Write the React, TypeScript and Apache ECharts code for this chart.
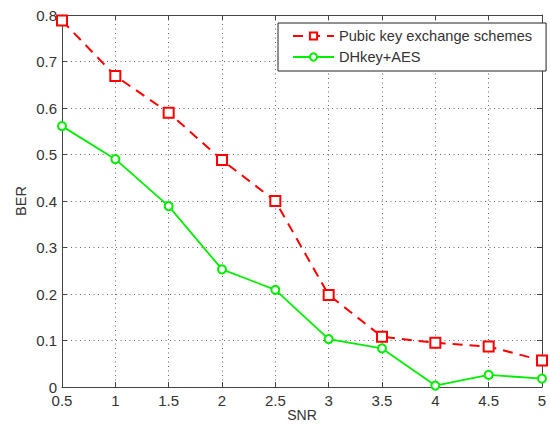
import React, { useEffect, useRef } from "react";
import * as echarts from "echarts";

const snr = [0.5, 1, 1.5, 2, 2.5, 3, 3.5, 4, 4.5, 5];
const pubKey = [0.788, 0.669, 0.59, 0.488, 0.4, 0.198, 0.108, 0.095, 0.087, 0.057];
const dhAes = [0.561, 0.49, 0.389, 0.253, 0.209, 0.103, 0.083, 0.003, 0.026, 0.018];
const seriesNames = ["Pubic key exchange schemes", "DHkey+AES"];

const FONT = "'Liberation Sans', Arial, sans-serif";
const TXT = "#333";
const AXIS = "#444";

export default function App() {
  const ref = useRef<HTMLDivElement>(null);
  useEffect(() => {
    document.body.style.margin = "0";
    const chart = echarts.init(ref.current!, null, { renderer: "svg" });
    const fmt = (v: number) => String(+v.toFixed(2));
    const grid = { left: 62, right: 8, top: 15, bottom: 39, containLabel: false, outerBoundsMode: "none" };
    chart.setOption({
      animation: false,
      backgroundColor: "#fff",
      textStyle: { fontFamily: FONT },
      grid,
      legend: {
        orient: "vertical",
        left: 278,
        top: 23,
        padding: [5, 14, 6, 14],
        itemGap: 5,
        itemWidth: 41,
        itemHeight: 9,
        backgroundColor: "#fff",
        borderColor: "#222",
        borderWidth: 1,
        borderRadius: 0,
        textStyle: { fontFamily: FONT, fontSize: 14.6, color: TXT, lineHeight: 16 },
        data: seriesNames,
      },
      xAxis: [
        {
          type: "value",
          min: 0.5,
          max: 5,
          interval: 0.5,
          name: "SNR",
          nameLocation: "middle",
          nameGap: 20,
          nameMoveOverlap: false,
          nameTextStyle: { fontFamily: FONT, fontSize: 14, color: TXT, lineHeight: 16 },
          axisLine: { show: true, onZero: false, lineStyle: { color: AXIS, width: 1 } },
          axisTick: { show: true, inside: true, length: 5, lineStyle: { color: AXIS } },
          axisLabel: { fontFamily: FONT, fontSize: 15, color: TXT, margin: 6, formatter: fmt },
          splitLine: { show: true, lineStyle: { color: "#666", type: [1, 3.5], width: 1 } },
        },
        {
          type: "value",
          position: "top",
          min: 0.5,
          max: 5,
          interval: 0.5,
          axisLine: { show: true, onZero: false, lineStyle: { color: AXIS, width: 1 } },
          axisTick: { show: true, inside: true, length: 5, lineStyle: { color: AXIS } },
          axisLabel: { show: false },
          splitLine: { show: false },
        },
      ],
      yAxis: [
        {
          type: "value",
          min: 0,
          max: 0.8,
          interval: 0.1,
          name: "BER",
          nameLocation: "middle",
          nameGap: 34,
          nameMoveOverlap: false,
          nameTextStyle: { fontFamily: FONT, fontSize: 14.5, color: TXT },
          axisLine: { show: true, onZero: false, lineStyle: { color: AXIS, width: 1 } },
          axisTick: { show: true, inside: true, length: 5, lineStyle: { color: AXIS } },
          axisLabel: { fontFamily: FONT, fontSize: 15, color: TXT, margin: 5, formatter: fmt },
          splitLine: { show: true, lineStyle: { color: "#666", type: [1, 3.5], width: 1 } },
        },
        {
          type: "value",
          position: "right",
          min: 0,
          max: 0.8,
          interval: 0.1,
          axisLine: { show: true, onZero: false, lineStyle: { color: AXIS, width: 1 } },
          axisTick: { show: true, inside: true, length: 5, lineStyle: { color: AXIS } },
          axisLabel: { show: false },
          splitLine: { show: false },
        },
      ],
      series: [
        {
          name: seriesNames[0],
          type: "line",
          data: snr.map((x, i) => [x, pubKey[i]]),
          symbol: "emptyRect",
          symbolSize: 10,
          itemStyle: { color: "#ff0000", borderWidth: 1.6 },
          lineStyle: { color: "#ff0000", width: 2, type: [10, 7] },
        },
        {
          name: seriesNames[1],
          type: "line",
          data: snr.map((x, i) => [x, dhAes[i]]),
          symbol: "emptyCircle",
          symbolSize: 8,
          itemStyle: { color: "#00ee00", borderWidth: 1.5 },
          lineStyle: { color: "#00ee00", width: 1.8 },
        },
      ],
    });
    return () => chart.dispose();
  }, []);
  return <div ref={ref} style={{ width: 550, height: 426 }} />;
}
